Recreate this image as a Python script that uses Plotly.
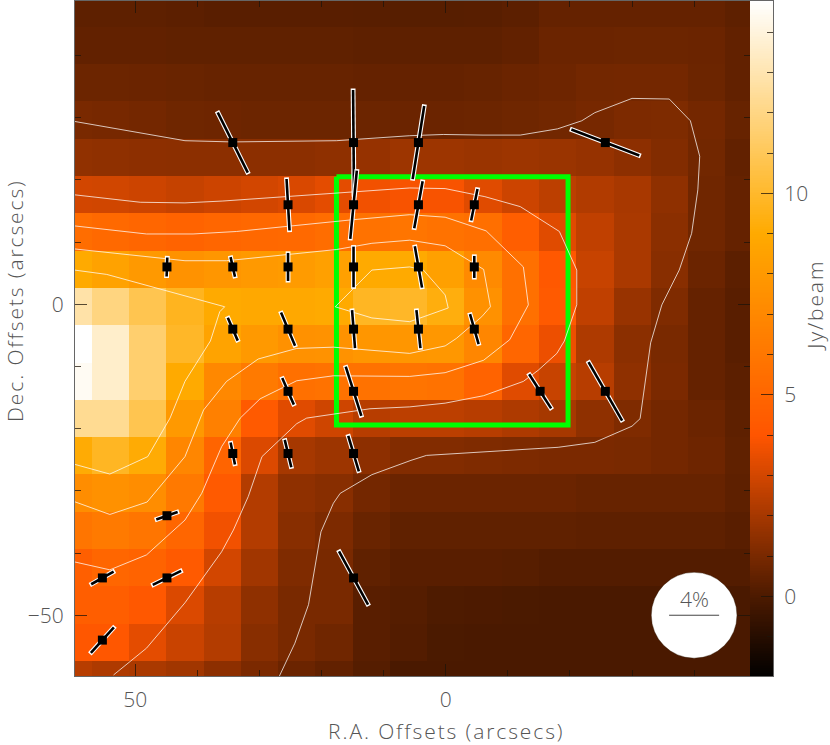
import numpy as np
import plotly.graph_objects as go

# --- map grid (arcsec offsets, Jy/beam) ---
ra_cells = [60, 54, 48, 42, 36, 30, 24, 18, 12, 6, 0, -6, -12, -18, -24, -30, -36, -42, -48]
dec_cells = [47.63, 41.63, 35.63, 29.63, 23.63, 17.63, 11.63, 5.63, -0.37, -6.37, -12.37, -18.37,
             -24.37, -30.37, -36.37, -42.37, -48.37, -54.37, -60.37]
flux = [
    [.4, .4, .4, .35, .3, .3, .3, .3, .27, .25, .25, .27, .35, .55, .55, .55, .55, .55, .4],
    [.5, .5, .5, .45, .45, .45, .45, .45, .4, .4, .4, .4, .5, .7, .7, .72, .72, .7, .5],
    [.72, .72, .7, .65, .6, .6, .6, .6, .55, .55, .55, .6, .7, .75, .87, .9, .9, .72, .5],
    [1.0, .95, .9, .78, .75, .72, .72, .72, .72, .7, .7, .72, .78, .85, .97, 1.1, 1.12, .9, .6],
    [1.55, 1.5, 1.45, 1.43, 1.43, 1.42, 1.42, 1.5, 1.65, 1.8, 1.8, 1.75, 1.8, 1.75, 1.65, 1.45, 1.2, .85, .5],
    [3.0, 2.95, 2.85, 2.7, 2.85, 3.0, 3.15, 3.4, 3.7, 3.85, 3.85, 3.3, 2.85, 2.5, 2.25, 2.05, 1.5, .8, .55],
    [5.4, 5.2, 5.0, 4.85, 5.0, 5.1, 5.2, 5.4, 5.7, 5.9, 5.7, 5.5, 4.5, 3.3, 2.6, 2.1, 1.4, .8, .55],
    [9.0, 8.5, 8.0, 7.6, 7.8, 8.0, 8.1, 8.4, 9.0, 9.0, 8.4, 7.1, 5.6, 4.2, 2.75, 2.1, 1.35, .7, .35],
    [12.8, 11.9, 10.8, 9.7, 9.0, 8.9, 8.9, 9.0, 9.8, 9.9, 9.3, 7.5, 5.6, 4.3, 2.6, 1.7, 1.15, .55, .3],
    [14.77, 13.6, 11.5, 9.9, 8.6, 8.0, 7.5, 7.6, 7.8, 7.8, 7.9, 6.9, 5.0, 3.6, 2.2, 1.4, 1.0, .55, .3],
    [14.5, 13.6, 11.5, 9.0, 7.0, 6.2, 5.6, 5.7, 5.7, 5.8, 5.7, 4.8, 3.3, 2.75, 2.4, 1.5, 1.05, .55, .35],
    [12.3, 12.3, 10.8, 8.0, 6.5, 4.3, 3.3, 2.9, 2.4, 2.5, 2.5, 2.4, 2.2, 2.0, 1.5, 1.15, .9, .7, .4],
    [9.1, 9.8, 9.1, 6.9, 4.9, 3.2, 2.0, 1.8, 1.45, 1.2, 1.2, 1.15, 1.1, 1.05, 1.05, 1.0, .9, .75, .45],
    [7.3, 7.5, 7.3, 6.1, 4.3, 2.3, 1.5, 1.35, .9, .7, .7, .7, .7, .7, .6, .6, .6, .6, .4],
    [5.9, 6.2, 5.9, 5.0, 3.7, 2.3, 1.35, 1.1, .65, .45, .45, .45, .45, .45, .4, .4, .4, .4, .3],
    [4.6, 5.0, 4.8, 4.3, 3.0, 1.9, 1.15, 1.0, .45, .3, .3, .3, .25, .15, .15, .15, .15, .15, .15],
    [4.5, 4.5, 4.2, 3.2, 2.4, 1.5, 1.0, 1.0, .3, .2, .05, .02, -.03, -.05, -.05, -.05, -.05, -.05, -.05],
    [4.1, 4.1, 3.4, 2.8, 2.3, 1.35, 1.0, .8, .3, .15, -.02, -.05, -.05, -.05, -.05, -.05, -.05, -.05, -.05],
    [2.4, 2.2, 2.1, 1.9, 1.45, 1.05, .7, .5, .2, -.05, -.05, -.05, -.05, -.05, -.05, -.05, -.05, -.05, -.05],
]

# --- colour table ---
z_low, z_high = -2.0, 14.77
cmap_values = [-2.0, 0.0, 4.0, 9.0, 14.77]
cmap_colors = ["#000000", "#4c1a00", "#ff5500", "#ffaa00", "#ffffff"]

# --- contours (RA, Dec offsets, arcsec) ---
contour_1 = [(59.8, 29.4), (42.0, 26.3), (34.4, 26.1), (17.6, 26.3), (5.8, 27.1), (0.4, 27.3), (-6.0, 27.2),
             (-12.0, 27.2), (-18.0, 28.2), (-21.9, 29.5), (-24.0, 30.8), (-30.0, 33.1), (-36.0, 33.0), (-39.4, 29.5),
             (-40.9, 23.8), (-40.6, 18.4), (-39.6, 11.4), (-37.6, 5.5), (-34.8, -0.1), (-33.2, -5.7), (-33.0, -6.2),
             (-31.3, -18.4), (-30.0, -19.6), (-24.0, -22.2), (-18.1, -23.0), (3.1, -24.3), (5.6, -25.1), (11.9, -27.4),
             (17.0, -30.4), (18.1, -32.0), (20.1, -36.6), (22.1, -48.3), (24.3, -54.5), (26.8, -59.8)]
contour_2 = [(59.8, 17.6), (49.2, 16.4), (42.0, 16.3), (35.9, 16.6), (5.8, 18.7), (0.1, 18.6), (-6.3, 17.3),
             (-12.0, 15.7), (-18.3, 11.7), (-21.1, 5.5), (-21.1, -0.1), (-19.1, -5.9), (-17.9, -7.9), (-14.9, -10.6),
             (-12.5, -12.4), (-6.1, -14.7), (0.1, -15.9), (5.8, -16.5), (12.2, -16.8), (22.4, -18.3), (24.0, -19.2),
             (29.6, -24.5), (31.8, -30.9), (34.2, -36.3), (36.1, -39.8), (42.0, -48.0), (48.2, -55.3), (53.5, -59.6)]
contour_3 = [(59.8, 12.6), (48.2, 11.3), (40.7, 11.3), (33.7, 11.7), (14.9, 13.6), (5.8, 14.4), (0.1, 14.0),
             (-6.5, 11.8), (-12.5, 6.0), (-13.3, -0.1), (-10.3, -5.7), (-6.1, -9.0), (0.1, -11.0), (5.8, -11.6),
             (18.1, -11.5), (24.0, -12.3), (29.9, -15.2), (33.1, -18.3), (36.1, -22.9), (39.3, -30.4), (42.0, -34.7),
             (48.2, -40.3), (54.1, -42.7), (59.9, -41.4)]
contour_4 = [(59.8, 8.9), (49.8, 7.8), (42.0, 7.0), (35.3, 7.0), (17.6, 8.8), (11.9, 9.8), (5.8, 10.3), (0.1, 9.4),
             (-6.1, 5.6), (-7.2, -0.4), (-5.8, -2.0), (-1.7, -5.5), (0.1, -6.7), (5.8, -7.9), (18.1, -6.9), (24.0, -7.1),
             (30.2, -8.8), (35.3, -12.4), (39.0, -17.0), (42.0, -24.5), (48.1, -31.8), (54.1, -33.8), (59.9, -31.7)]
contour_5 = [(59.8, 5.5), (54.6, 4.8), (35.6, -0.4), (36.4, -1.2), (37.9, -5.9), (42.0, -12.4), (44.4, -18.3),
             (48.0, -24.5), (54.1, -27.3), (59.9, -25.7)]
contour_6 = [(17.8, -0.4), (11.9, 5.5), (5.8, 6.0), (3.6, 5.5), (0.1, 1.5), (-0.4, -0.6), (5.8, -2.8), (11.9, -2.2),
             (17.8, -0.4)]
contours = [contour_1, contour_2, contour_3, contour_4, contour_5, contour_6]

# --- polarization vectors ---
vec_ra = [34.3, 14.85, 4.4, -25.7,
          25.4, 14.85, 4.4, -4.6,
          44.9, 34.3, 25.4, 14.85, 4.4, -4.6,
          34.3, 25.4, 14.85, 4.4, -4.6,
          25.4, 14.85, -15.2, -25.7,
          34.3, 25.4, 14.85,
          44.9,
          55.3, 44.9, 14.85,
          55.3]
vec_dec = [26, 26, 26, 26,
           16, 16, 16, 16,
           6, 6, 6, 6, 6, 6,
           -4, -4, -4, -4, -4,
           -14, -14, -14, -14,
           -24, -24, -24,
           -34,
           -44, -44, -44,
           -54]
vec_pct = [5.37, 8.4, 5.91, 5.82,
           4.12, 5.47, 3.82, 2.58,
           1.52, 1.61, 2.24, 3.25, 3.35, 1.76,
           2.0, 2.87, 3.05, 3.06, 2.5,
           2.32, 4.13, 3.24, 5.39,
           1.79, 2.25, 2.96,
           1.81,
           2.06, 2.53, 4.85,
           2.74]
vec_pa = [26.6, 0.5, -9, 69.1,
          3.3, -5.5, -10.1, -11.4,
          -2, 12.7, 0, 0, 9.9, 0,
          23.5, 23, 4.5, 6, 16,
          23.6, 17.6, 32.9, 29.9,
          11.3, 13.5, 16.7,
          -70.9,
          -60.6, -63.8, 28.6,
          -42.2]
arcsec_per_pct = 2.013

# --- overlays ---
box_ra = [17.6, -19.7, -19.7, 17.6, 17.6]
box_dec = [20.5, 20.5, -19.4, -19.4, 20.5]
key_ra, key_dec, key_radius, key_pct = -40.0, -50.0, 6.9, 4

FONT = "Open Sans, DejaVu Sans, sans-serif"
FONT_WEIGHT = 300
INK = "#555555"
TICK = "rgba(30,20,10,0.75)"
label_font = dict(family=FONT, size=21, color=INK, weight=FONT_WEIGHT)

stops = [[(v - z_low) / (z_high - z_low), c] for v, c in zip(cmap_values, cmap_colors)]

fig = go.Figure()
fig.add_trace(go.Heatmap(x=ra_cells, y=dec_cells, z=flux, zmin=z_low, zmax=z_high, colorscale=stops,
                         showscale=False, xaxis="x", yaxis="y", hoverinfo="skip"))
fig.add_trace(go.Scatter(x=box_ra, y=box_dec, mode="lines", line=dict(color="#00ff00", width=5),
                         hoverinfo="skip", showlegend=False))
for c in contours:
    fig.add_trace(go.Scatter(x=[p[0] for p in c], y=[p[1] for p in c], mode="lines",
                             line=dict(color="rgba(255,255,255,0.92)", width=0.8),
                             hoverinfo="skip", showlegend=False))

pa = np.radians(vec_pa)
half = np.array(vec_pct) * arcsec_per_pct / 2
dx, dy = half * np.sin(pa), half * np.cos(pa)
ra0, dec0 = np.array(vec_ra), np.array(vec_dec)
for i in range(len(vec_ra)):
    ux, uy = np.sin(pa[i]) * 0.25, np.cos(pa[i]) * 0.25
    fig.add_trace(go.Scatter(x=[ra0[i] + dx[i] + ux, ra0[i] - dx[i] - ux],
                             y=[dec0[i] + dy[i] + uy, dec0[i] - dy[i] - uy],
                             mode="lines", line=dict(color="white", width=4.8),
                             hoverinfo="skip", showlegend=False))
    fig.add_trace(go.Scatter(x=[ra0[i] + dx[i], ra0[i] - dx[i]], y=[dec0[i] + dy[i], dec0[i] - dy[i]],
                             mode="lines", line=dict(color="black", width=2.6),
                             hoverinfo="skip", showlegend=False))
fig.add_trace(go.Scatter(x=vec_ra, y=vec_dec, mode="markers",
                         marker=dict(symbol="square", size=9, color="black", line=dict(width=0)),
                         hoverinfo="skip", showlegend=False))

# colour wedge, on its own axes
wedge = np.linspace(z_low, z_high, 400)
fig.add_trace(go.Heatmap(x=[0, 1], y=wedge, z=np.column_stack([wedge, wedge]), zmin=z_low, zmax=z_high,
                         colorscale=stops, showscale=False, xaxis="x2", yaxis="y2", hoverinfo="skip"))

axis_common = dict(showgrid=False, zeroline=False, showline=True, linecolor="#666666", linewidth=1,
                   ticks="inside", ticklen=12, tickwidth=1, tickcolor=TICK, tick0=0, tickfont=label_font)
minor_ticks = dict(ticks="inside", ticklen=6, tickwidth=1, tickcolor=TICK, showgrid=False)

fig.update_layout(
    width=830, height=745, margin=dict(l=75, r=57, t=1, b=69, pad=0),
    plot_bgcolor="white", paper_bgcolor="white", showlegend=False,
    xaxis=dict(domain=[0, 675 / 698], range=[59.71, -49.0], dtick=50, mirror="allticks",
               minor=dict(dtick=10, **minor_ticks), anchor="y", ticklabelstandoff=5, **axis_common),
    yaxis=dict(domain=[0, 1], range=[-59.77, 48.76], dtick=50, mirror="allticks",
               minor=dict(dtick=10, **minor_ticks), anchor="x", ticklabelstandoff=6, **axis_common),
    xaxis2=dict(domain=[675 / 698, 1], range=[0, 1], anchor="y2", showgrid=False, zeroline=False,
                showticklabels=False, ticks="", showline=True, linecolor="#666666", linewidth=1, mirror=True),
    yaxis2=dict(domain=[0, 1], range=[z_low + 0.03, z_high], anchor="x2", side="right", dtick=5,
                minor=dict(dtick=1, **minor_ticks), ticklabelstandoff=6, **axis_common),
    shapes=[
        dict(type="circle", xref="x", yref="y", x0=key_ra - key_radius, x1=key_ra + key_radius,
             y0=key_dec - key_radius, y1=key_dec + key_radius, fillcolor="white",
             line=dict(color="rgba(40,20,0,0.6)", width=0.6), layer="above"),
        dict(type="line", xref="x", yref="y", x0=key_ra + key_pct * arcsec_per_pct / 2,
             x1=key_ra - key_pct * arcsec_per_pct / 2, y0=key_dec, y1=key_dec,
             line=dict(color="#444444", width=1), layer="above"),
    ],
    annotations=[
        dict(x=key_ra, y=key_dec, xref="x", yref="y", text=f"{key_pct}%", showarrow=False,
             yanchor="bottom", yshift=0, font=label_font),
        dict(x=(446.5 - 75) / 698, y=(676 - 731) / 675, xref="paper", yref="paper", xanchor="center",
             yanchor="middle", text="R.A. Offsets (arcsecs)", showarrow=False, font=label_font),
        dict(x=(15 - 75) / 698, y=(676 - 301) / 675, xref="paper", yref="paper", xanchor="center",
             yanchor="middle", text="Dec. Offsets (arcsecs)", showarrow=False, textangle=-90, font=label_font),
        dict(x=(815 - 75) / 698, y=(676 - 305) / 675, xref="paper", yref="paper", xanchor="center",
             yanchor="middle", text="Jy/beam", showarrow=False, textangle=-90, font=label_font),
    ],
)

post = """
document.body.style.margin = '0';
document.querySelectorAll('.annotation-text').forEach(function (el) {
  if (el.textContent.indexOf('%') < 0) { el.style.letterSpacing = '1.9px'; }
});
"""
fig.write_html("out.html", config=dict(displayModeBar=False), post_script=post)
